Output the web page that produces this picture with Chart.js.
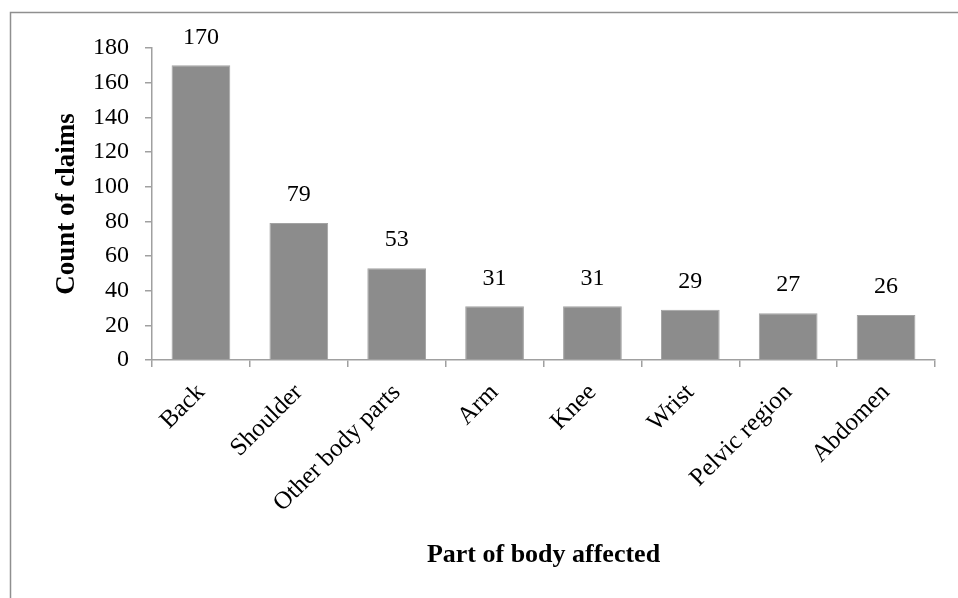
<!DOCTYPE html>
<html><head><meta charset="utf-8">
<script src="https://cdn.jsdelivr.net/npm/chart.js@4.4.1/dist/chart.umd.min.js"></script>
<style>html,body{margin:0;padding:0;background:#fff;}#wrap{width:958px;height:598px;position:relative;}</style>
</head><body><div id="wrap"><canvas id="c" width="958" height="598"></canvas></div>
<script>
const categories = ["Back","Shoulder","Other body parts","Arm","Knee","Wrist","Pelvic region","Abdomen"];
const claimCounts = [170,79,53,31,31,29,27,26];
const yTicks = [0,20,40,60,80,100,120,140,160,180];
const xTitle = "Part of body affected";
const yTitle = "Count of claims";

const FONT = "'Liberation Serif','Times New Roman',serif";

const frame = {
  id:'frame',
  beforeDraw(chart){
    const ctx = chart.ctx;
    ctx.save();
    ctx.fillStyle='#fff'; ctx.fillRect(0,0,chart.width,chart.height);
    ctx.strokeStyle='#8f8f8f'; ctx.lineWidth=1.5;
    ctx.strokeRect(10.5,12.5,2000,2000);
    ctx.restore();
  }
};
const valueLabels = {
  id:'valueLabels',
  afterDatasetsDraw(chart){
    const ctx = chart.ctx;
    const meta = chart.getDatasetMeta(0);
    ctx.save();
    ctx.font = "24px " + FONT;
    ctx.fillStyle = '#000';
    ctx.textAlign = 'center';
    ctx.textBaseline = 'middle';
    meta.data.forEach((bar,i)=>{
      ctx.fillText(String(claimCounts[i]), bar.x, bar.y - 28);
    });
    ctx.restore();
  }
};

new Chart(document.getElementById('c'),{
  type:'bar',
  data:{labels:categories,datasets:[{data:claimCounts,backgroundColor:'#8c8c8c',borderColor:'#a3a3a3',borderWidth:1,barPercentage:0.6,categoryPercentage:1}]},
  options:{
    responsive:false,animation:false,
    layout:{padding:{left:0,right:23,top:48,bottom:20}},
    plugins:{legend:{display:false},tooltip:{enabled:false}},
    scales:{
      x:{
        grid:{display:true,drawOnChartArea:false,offset:true,color:'#a0a0a0',lineWidth:1.5,tickLength:7},
        border:{display:true,color:'#a0a0a0',width:1.5},
        ticks:{color:'#000',font:{family:FONT,size:25},maxRotation:45,minRotation:45,padding:11},
        title:{display:true,text:xTitle,color:'#000',font:{family:FONT,size:26,weight:'bold'},padding:{top:7,bottom:7}},
        afterFit(s){ s.height = 598-20-360; }
      },
      y:{
        min:0,max:180,
        afterBuildTicks(s){ s.ticks = yTicks.map(v=>({value:v})); },
        grid:{display:true,drawOnChartArea:false,color:'#a0a0a0',lineWidth:1.5,tickLength:7},
        border:{display:true,color:'#a0a0a0',width:1.5},
        ticks:{color:'#000',font:{family:FONT,size:24},padding:16},
        title:{display:true,text:yTitle,color:'#000',font:{family:FONT,size:27,weight:'bold'},padding:{top:51,bottom:51}},
        afterFit(s){ s.width = 152; }
      }
    }
  },
  plugins:[frame,valueLabels]
});
</script></body></html>
